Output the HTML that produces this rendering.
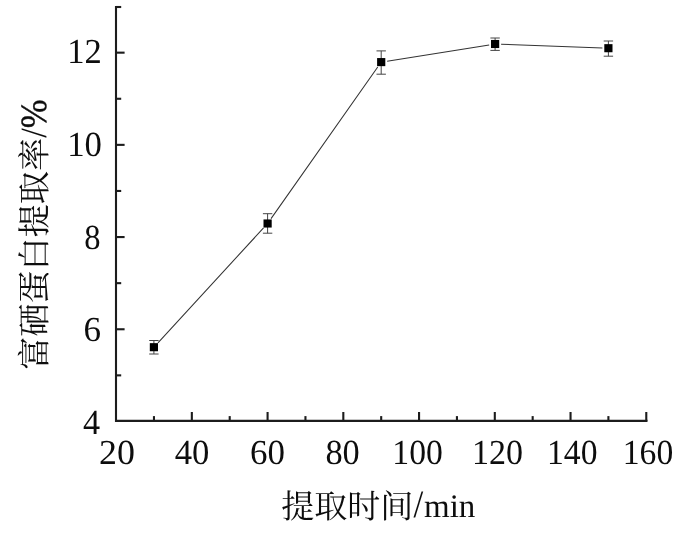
<!DOCTYPE html>
<html lang="zh"><head><meta charset="utf-8"><title>富硒蛋白提取率</title>
<style>html,body{margin:0;padding:0;background:#fff}body{width:688px;height:539px;overflow:hidden}svg{display:block}text{font-family:"Liberation Serif","Noto Serif CJK SC",serif;fill:#0d0d0d;text-rendering:geometricPrecision}.tk{font-size:35.2px}.cj{font-family:"Noto Serif CJK SC","Liberation Serif",serif;font-weight:400}</style></head><body>
<svg width="688" height="539" viewBox="0 0 688 539">
<rect width="688" height="539" fill="#fff"/>
<g stroke="#1c1c1c" stroke-width="2.1" fill="none" stroke-linecap="butt">
<path d="M116.00 6V420.90H647.5"/>
<path d="M116.00 375.36h5.20"/>
<path d="M116.00 329.26h8.60"/>
<path d="M116.00 283.16h5.20"/>
<path d="M116.00 237.06h8.60"/>
<path d="M116.00 190.96h5.20"/>
<path d="M116.00 144.86h8.60"/>
<path d="M116.00 98.76h5.20"/>
<path d="M116.00 52.66h8.60"/>
<path d="M116.00 7.00h5.20"/>
<path d="M153.97 420.90v-4.80"/>
<path d="M191.84 420.90v-8.90"/>
<path d="M229.71 420.90v-4.80"/>
<path d="M267.58 420.90v-8.90"/>
<path d="M305.45 420.90v-4.80"/>
<path d="M343.32 420.90v-8.90"/>
<path d="M381.19 420.90v-4.80"/>
<path d="M419.06 420.90v-8.90"/>
<path d="M456.93 420.90v-4.80"/>
<path d="M494.80 420.90v-8.90"/>
<path d="M532.67 420.90v-4.80"/>
<path d="M570.54 420.90v-8.90"/>
<path d="M608.41 420.90v-4.80"/>
<path d="M646.28 420.90v-8.90"/>
</g>
<path fill="none" stroke="#333" stroke-width="1.05" d="M157.96 342.78L263.54 227.92M271.05 218.59L377.75 67.01M387.13 61.16L489.17 44.94M501.10 44.22L602.40 47.98"/>
<g stroke="#444" stroke-width="1" fill="none">
<path d="M153.9 340.5V354.0M149.2 340.5h9.4M149.2 354.0h9.4"/>
<path d="M267.6 213.7V233.2M262.9 213.7h9.4M262.9 233.2h9.4"/>
<path d="M381.2 50.9V74.2M376.5 50.9h9.4M376.5 74.2h9.4"/>
<path d="M495.1 38.0V50.4M490.4 38.0h9.4M490.4 50.4h9.4"/>
<path d="M608.4 41.0V56.2M603.7 41.0h9.4M603.7 56.2h9.4"/>
</g>
<rect x="149.80" y="343.15" width="8.2" height="8.1" fill="#000"/>
<rect x="263.50" y="219.45" width="8.2" height="8.1" fill="#000"/>
<rect x="377.10" y="58.05" width="8.2" height="8.1" fill="#000"/>
<rect x="491.00" y="39.95" width="8.2" height="8.1" fill="#000"/>
<rect x="604.30" y="44.15" width="8.2" height="8.1" fill="#000"/>
<text class="tk" transform="translate(67.16 63.10) scale(0.9813 1)">12</text>
<text class="tk" transform="translate(67.14 155.70) scale(0.9881 1)">10</text>
<text class="tk" transform="translate(84.26 248.60) scale(0.9250 1)">8</text>
<text class="tk" transform="translate(83.49 341.40) scale(0.9974 1)">6</text>
<text class="tk" transform="translate(83.03 433.60) scale(0.9717 1)">4</text>
<text class="tk" transform="translate(99.02 463.9) scale(1.0182 1)">20</text>
<text class="tk" transform="translate(174.72 463.9) scale(0.9858 1)">40</text>
<text class="tk" transform="translate(250.10 463.9) scale(0.9939 1)">60</text>
<text class="tk" transform="translate(325.44 463.9) scale(0.9764 1)">80</text>
<text class="tk" transform="translate(392.34 463.9) scale(0.9573 1)">100</text>
<text class="tk" transform="translate(472.01 463.9) scale(0.9666 1)">120</text>
<text class="tk" transform="translate(547.04 463.9) scale(0.9563 1)">140</text>
<text class="tk" transform="translate(622.79 463.9) scale(0.9563 1)">160</text>
<text class="cj" x="281.3" y="518" font-size="33">提取时间</text>
<text transform="translate(413.4 516.9) scale(1 1.109)" font-size="34.9">/</text>
<text x="424" y="516.85" font-size="33">min</text>
<text class="cj" transform="translate(46 369.85) rotate(-90)" font-size="33.15">富硒蛋白提取率</text>
<text transform="translate(46.1 137.8) rotate(-90) scale(1 1.075)" font-size="34.4">/<tspan stroke="#0d0d0d" stroke-width=".4">%</tspan></text>
</svg></body></html>
